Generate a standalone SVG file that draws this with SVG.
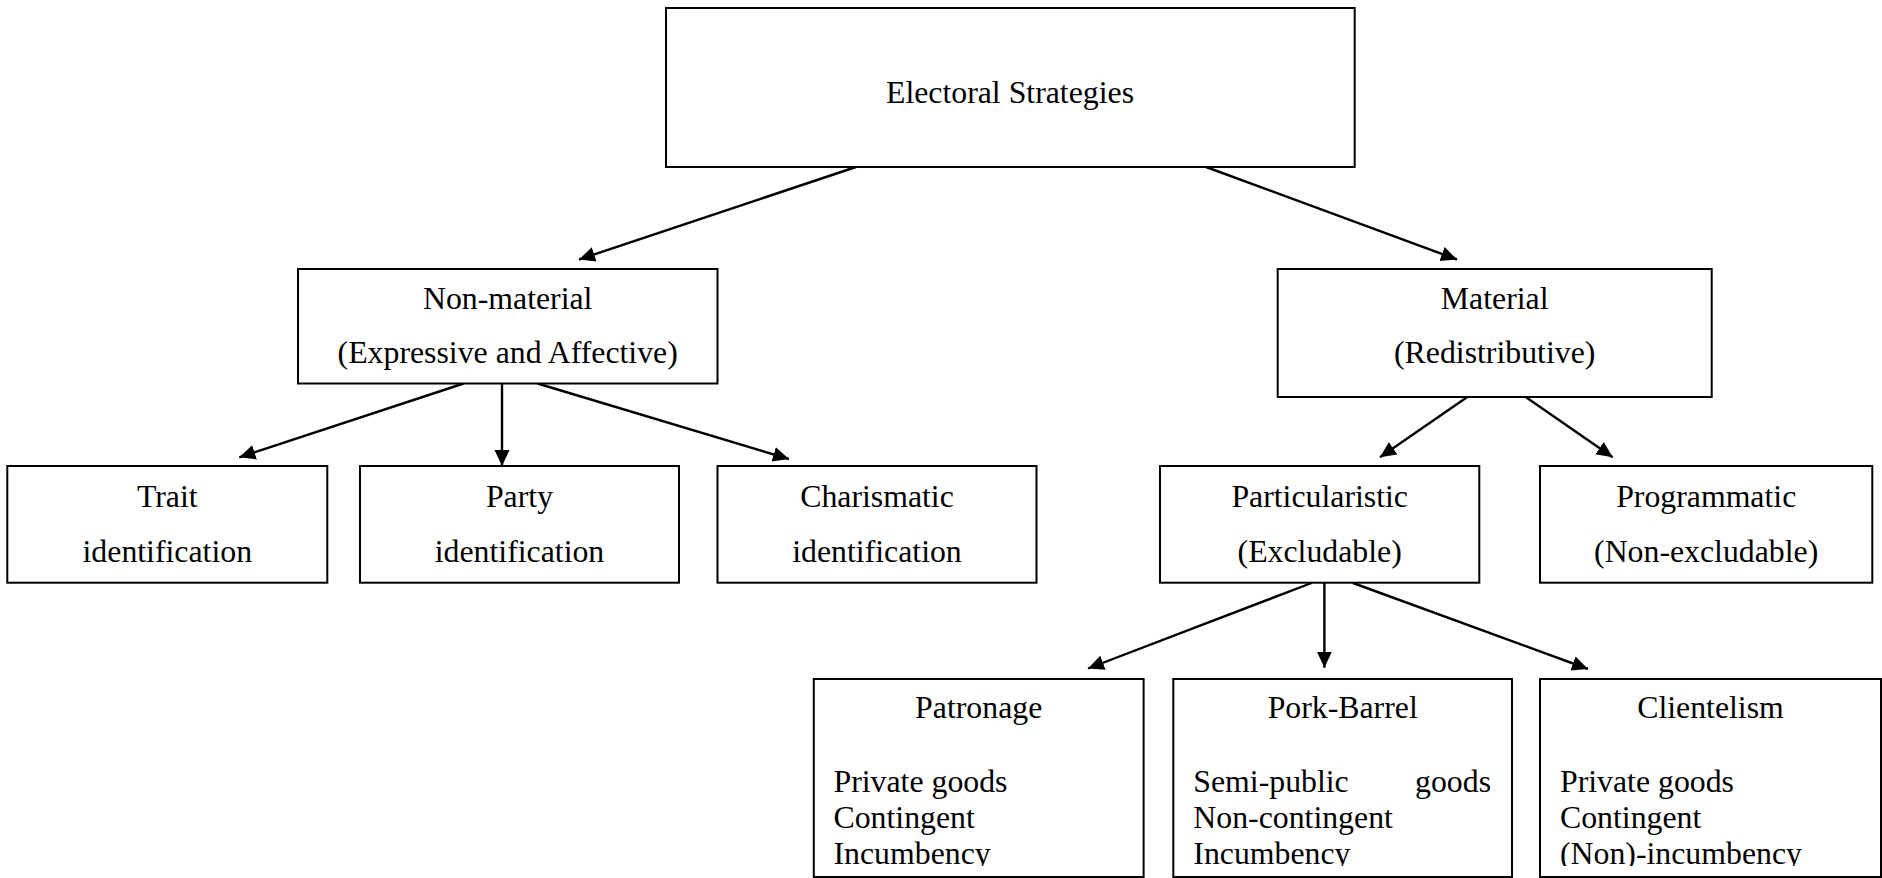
<svg xmlns="http://www.w3.org/2000/svg" width="1882" height="878" viewBox="0 0 1882 878">
<style>
.box{fill:#fff;stroke:#000;stroke-width:2}
text{font-family:"Liberation Serif","Times New Roman",serif;font-size:31.8px;fill:#000}
.c{text-anchor:middle}
.edge{stroke:#000;stroke-width:2.4;fill:none;marker-end:url(#ah)}
</style>
<defs>
<marker id="ah" markerUnits="userSpaceOnUse" markerWidth="18" markerHeight="16" refX="16" refY="7.5" orient="auto">
<path d="M0,0 L16,7.5 L0,15 z" fill="#000"/>
</marker>
<clipPath id="cut"><rect x="0" y="0" width="1882" height="866"/></clipPath>
</defs>
<rect width="1882" height="878" fill="#fff"/>
<g id="connectors">
<line class="edge" x1="856" y1="167" x2="579" y2="259.5"/>
<line class="edge" x1="1206" y1="167" x2="1457" y2="259.5"/>
<line class="edge" x1="463.6" y1="383.5" x2="239.3" y2="457.3"/>
<line class="edge" x1="502" y1="383.5" x2="502" y2="466"/>
<line class="edge" x1="537.6" y1="383.5" x2="789" y2="459"/>
<line class="edge" x1="1467.3" y1="397" x2="1380" y2="457.3"/>
<line class="edge" x1="1525.7" y1="397" x2="1612.7" y2="457.3"/>
<line class="edge" x1="1311.5" y1="583" x2="1088" y2="668.5"/>
<line class="edge" x1="1324.4" y1="583" x2="1324.4" y2="667.7"/>
<line class="edge" x1="1353" y1="583" x2="1588" y2="669"/>
</g>
<g id="root">
<rect class="box" x="666" y="8" width="688.7" height="159"/>
<text class="c" x="1010" y="103.3">Electoral Strategies</text>
</g>
<g id="nonmaterial">
<rect class="box" x="298" y="269" width="419.5" height="114.5"/>
<text class="c" x="507.7" y="309">Non-material</text>
<text class="c" x="507.7" y="363">(Expressive and Affective)</text>
</g>
<g id="material">
<rect class="box" x="1277.7" y="269" width="434" height="128"/>
<text class="c" x="1494.7" y="309">Material</text>
<text class="c" x="1494.7" y="363">(Redistributive)</text>
</g>
<g id="trait">
<rect class="box" x="7.3" y="466" width="320" height="116.7"/>
<text class="c" x="167.3" y="507">Trait</text>
<text class="c" x="167.3" y="562">identification</text>
</g>
<g id="party">
<rect class="box" x="360" y="466" width="319" height="116.7"/>
<text class="c" x="519.5" y="507">Party</text>
<text class="c" x="519.5" y="562">identification</text>
</g>
<g id="charismatic">
<rect class="box" x="717.5" y="466" width="319" height="116.7"/>
<text class="c" x="877" y="507">Charismatic</text>
<text class="c" x="877" y="562">identification</text>
</g>
<g id="particularistic">
<rect class="box" x="1160" y="466" width="319.3" height="116.7"/>
<text class="c" x="1319.7" y="507">Particularistic</text>
<text class="c" x="1319.7" y="562">(Excludable)</text>
</g>
<g id="programmatic">
<rect class="box" x="1540" y="466" width="332.3" height="116.7"/>
<text class="c" x="1706.2" y="507">Programmatic</text>
<text class="c" x="1706.2" y="562">(Non-excludable)</text>
</g>
<g id="patronage">
<rect class="box" x="813.8" y="679" width="329.8" height="198"/>
<g clip-path="url(#cut)">
<text class="c" x="978.7" y="718">Patronage</text>
<text x="833.5" y="791.7">Private goods</text>
<text x="833.5" y="828.3">Contingent</text>
<text x="833.5" y="863.5">Incumbency</text>
</g>
</g>
<g id="porkbarrel">
<rect class="box" x="1173.3" y="679" width="338.7" height="198"/>
<g clip-path="url(#cut)">
<text class="c" x="1342.7" y="718">Pork-Barrel</text>
<text x="1193.3" y="791.7">Semi-public</text>
<text x="1491" y="791.7" text-anchor="end">goods</text>
<text x="1193.3" y="828.3">Non-contingent</text>
<text x="1193.3" y="863.5">Incumbency</text>
</g>
</g>
<g id="clientelism">
<rect class="box" x="1540" y="679" width="341" height="198"/>
<g clip-path="url(#cut)">
<text class="c" x="1710.5" y="718">Clientelism</text>
<text x="1560" y="791.7">Private goods</text>
<text x="1560" y="828.3">Contingent</text>
<text x="1560" y="863.5">(Non)-incumbency</text>
</g>
</g>
</svg>
